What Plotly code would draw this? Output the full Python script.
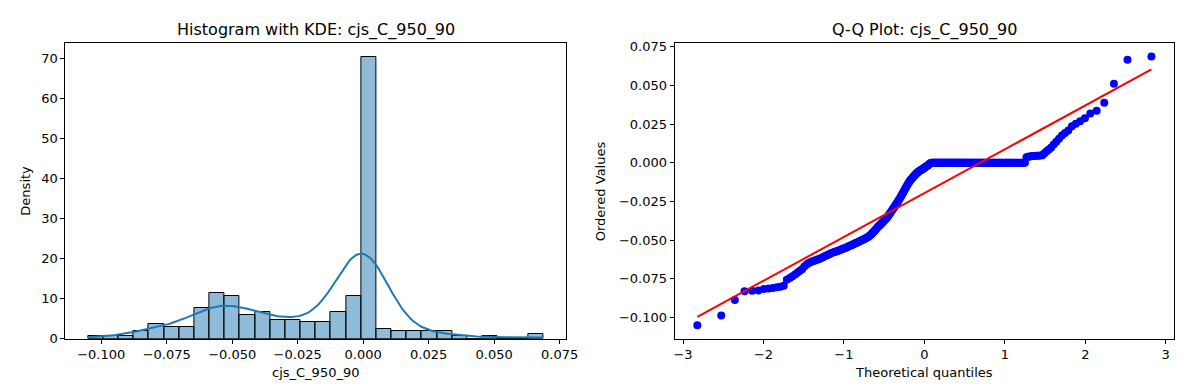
import numpy as np
import plotly.graph_objects as go
from statistics import NormalDist

# ---- data (sample values) ----
series_name = "cjs_C_950_90"

negative_values = [
    -0.1050, -0.0988, -0.0887,
    -0.0831, -0.0828, -0.0825,
    -0.0816, -0.0812, -0.0809, -0.0805, -0.0801, -0.0795,
    -0.0756, -0.0745, -0.0734, -0.0722, -0.0710,
    -0.0698, -0.0688, -0.0670, -0.0660, -0.0650,
    -0.0643, -0.0638, -0.0634, -0.0630, -0.0626, -0.0622, -0.0618, -0.0613, -0.0608, -0.0603, -0.0598, -0.0594, -0.0590,
    -0.0585, -0.0582, -0.0579, -0.0576, -0.0573, -0.0570, -0.0567, -0.0564, -0.0561, -0.0558, -0.0555, -0.0552, -0.0549,
    -0.0546, -0.0543, -0.0540, -0.0537, -0.0534, -0.0531,
    -0.0527, -0.0524, -0.0521, -0.0518, -0.0515, -0.0512, -0.0509, -0.0506, -0.0503, -0.0500, -0.0497, -0.0494, -0.0491,
    -0.0488, -0.0485, -0.0482, -0.0478, -0.0474,
    -0.0469, -0.0464, -0.0458, -0.0452, -0.0446, -0.0440, -0.0434, -0.0428, -0.0422, -0.0416,
    -0.0411, -0.0406, -0.0401, -0.0396, -0.0390, -0.0385, -0.0380, -0.0374, -0.0369, -0.0364, -0.0358,
    -0.0352, -0.0345, -0.0338, -0.0330, -0.0323, -0.0316, -0.0308, -0.0300,
    -0.0294, -0.0287, -0.0280, -0.0272, -0.0265, -0.0258, -0.0250, -0.0243,
    -0.0236, -0.0228, -0.0220, -0.0212, -0.0204, -0.0196, -0.0188,
    -0.0178, -0.0170, -0.0162, -0.0154, -0.0146, -0.0138, -0.0130,
    -0.0121, -0.0116, -0.0110, -0.0105, -0.0100, -0.0094, -0.0089, -0.0084, -0.0079, -0.0074, -0.0069,
    -0.0064, -0.0061, -0.0058, -0.0055, -0.0052, -0.0049, -0.0046, -0.0043, -0.0040, -0.0037, -0.0034, -0.0031,
    -0.0028, -0.0025, -0.0022, -0.0019, -0.0015, -0.0011,
    -0.0006, -0.0004, -0.0002,
]
zero_count = 105
positive_values = [
    0.0036, 0.0039, 0.0041, 0.0042, 0.0043, 0.0044, 0.0045, 0.0046, 0.0047, 0.0048,
    0.0062, 0.0074, 0.0086, 0.0099,
    0.0118, 0.0136, 0.0155,
    0.0176, 0.0192, 0.0208,
    0.0236, 0.0252, 0.0268,
    0.0288, 0.0318, 0.0336,
    0.0387,
    0.0510,
    0.0665, 0.0687,
]

n_bins = 30
hist_xticks = [-0.100, -0.075, -0.050, -0.025, 0.000, 0.025, 0.050, 0.075]
hist_xtext = ["−0.100", "−0.075", "−0.050", "−0.025", "0.000", "0.025", "0.050", "0.075"]
hist_yticks = [0, 10, 20, 30, 40, 50, 60, 70]
qq_xticks = [-3, -2, -1, 0, 1, 2, 3]
qq_xtext = ["−3", "−2", "−1", "0", "1", "2", "3"]
qq_yticks = [-0.100, -0.075, -0.050, -0.025, 0.000, 0.025, 0.050, 0.075]
qq_ytext = ["−0.100", "−0.075", "−0.050", "−0.025", "0.000", "0.025", "0.050", "0.075"]

# ---- derived ----
data = np.sort(np.array(negative_values + [0.0] * zero_count + positive_values))
n = len(data)

dens, edges = np.histogram(data, bins=n_bins, density=True)
centers = (edges[:-1] + edges[1:]) / 2
bw_w = edges[1] - edges[0]

# KDE (Scott's rule, evaluated over data range like seaborn's cut=0)
bw = data.std(ddof=1) * n ** (-0.2)
grid = np.linspace(data.min(), data.max(), 200)
kde = np.exp(-0.5 * ((grid[:, None] - data[None, :]) / bw) ** 2).sum(axis=1) / (n * bw * np.sqrt(2 * np.pi))

# Q-Q (Filliben plotting positions)
m = np.empty(n)
m[-1] = 0.5 ** (1.0 / n)
m[0] = 1 - m[-1]
i = np.arange(2, n)
m[1:-1] = (i - 0.3175) / (n + 0.365)
nd = NormalDist()
osm = np.array([nd.inv_cdf(p) for p in m])
slope, intercept = np.polyfit(osm, data, 1)

def pad(lo, hi, f=0.05):
    s = hi - lo
    return [lo - f * s, hi + f * s]

fig = go.Figure()
fig.add_trace(go.Bar(x=centers, y=dens, width=bw_w,
                     marker=dict(color="rgba(31,119,180,0.5)", line=dict(color="black", width=1)),
                     xaxis="x", yaxis="y", showlegend=False))
fig.add_trace(go.Scatter(x=grid, y=kde, mode="lines", line=dict(color="#1f77b4", width=2),
                         xaxis="x", yaxis="y", showlegend=False))
fig.add_trace(go.Scatter(x=osm, y=data, mode="markers", marker=dict(color="#0000ff", size=8),
                         xaxis="x2", yaxis="y2", showlegend=False))
fig.add_trace(go.Scatter(x=osm, y=slope * osm + intercept, mode="lines", line=dict(color="#ff0000", width=2),
                         xaxis="x2", yaxis="y2", showlegend=False))

W, H = 1189, 390
top, bottom = 32, 337
L1, R1 = 57, 563
L2, R2 = 673, 1178
ydom = [(H - bottom) / H, (H - top) / H]
font = "DejaVu Sans, Arial, sans-serif"
tickfont = dict(family=font, size=13, color="black")
common = dict(showline=True, mirror=True, linecolor="black", linewidth=1, ticks="outside",
              ticklen=4, tickwidth=1, tickcolor="black", showgrid=False, zeroline=False, tickfont=tickfont)

fig.update_layout(
    width=W, height=H, margin=dict(l=0, r=0, t=0, b=0),
    paper_bgcolor="white", plot_bgcolor="white", bargap=0,
    xaxis=dict(domain=[L1 / W, R1 / W], range=pad(data.min(), data.max()), anchor="y",
               tickvals=hist_xticks, ticktext=hist_xtext, **common),
    yaxis=dict(domain=ydom, range=[0, dens.max() * 1.05], anchor="x",
               tickvals=hist_yticks, **common),
    xaxis2=dict(domain=[L2 / W, R2 / W], range=pad(osm.min(), osm.max()), anchor="y2",
                tickvals=qq_xticks, ticktext=qq_xtext, **common),
    yaxis2=dict(domain=ydom, range=pad(data.min(), data.max()), anchor="x2",
                tickvals=qq_yticks, ticktext=qq_ytext, **common),
)

def ann(text, x, y, size, angle=0):
    fig.add_annotation(text=text, x=x / W, y=(H - y) / H, xref="paper", yref="paper",
                       xanchor="center", yanchor="middle", showarrow=False, textangle=angle,
                       font=dict(family=font, size=size, color="black"))

ann(f"Histogram with KDE: {series_name}", (L1 + R1) / 2, 19, 16)
ann(f"Q-Q Plot: {series_name}", (L2 + R2) / 2, 19, 16)
ann(series_name, (L1 + R1) / 2, 372, 13)
ann("Theoretical quantiles", (L2 + R2) / 2, 372, 13)
ann("Density", 17, (top + bottom) / 2, 13, -90)
ann("Ordered Values", 598, (top + bottom) / 2, 13, -90)

fig.write_html("out.html")
